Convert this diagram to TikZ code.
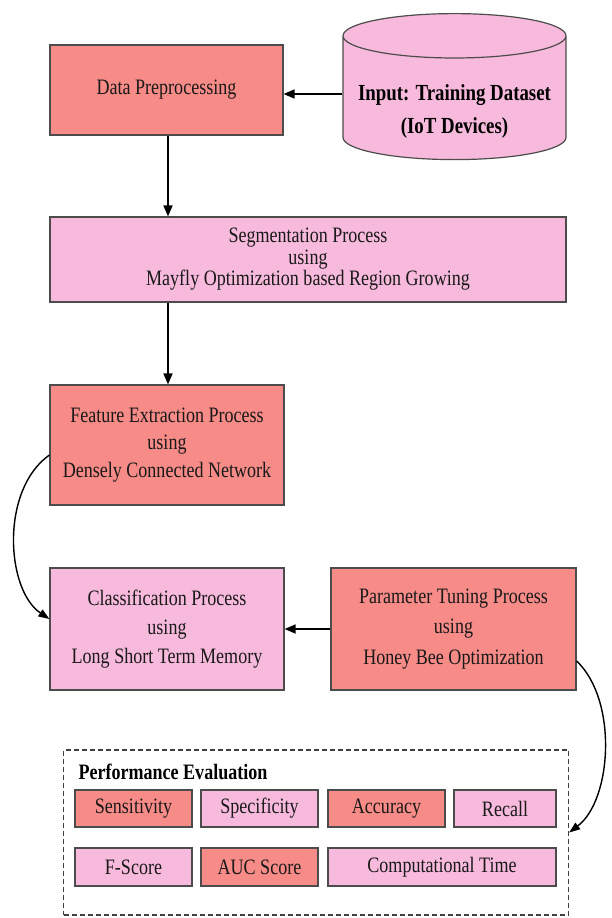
\documentclass[tikz,border=0pt]{standalone}
\usepackage{fontspec}
\setmainfont{Liberation Serif}[FakeStretch=0.82]
\usetikzlibrary{shapes.geometric,arrows.meta}
\definecolor{salmonfill}{RGB}{247,139,135}
\definecolor{pinkfill}{RGB}{248,186,220}

\begin{document}
\begin{tikzpicture}[x=1pt,y=-1pt,
    redbox/.style={draw=black!70, line width=1.2pt, fill=salmonfill, align=center, inner sep=0pt, text=black!90, font=\fontsize{22}{29}\selectfont},
    pinkbox/.style={redbox, fill=pinkfill},
    flow/.style={line width=1.7pt, -{Triangle[length=11pt,width=9pt]}},
    curvedflow/.style={line width=1.4pt, -{Triangle[length=11pt,width=8pt]}}]

    \useasboundingbox (0,0) rectangle (611,918);

    % Input data and preprocessing
    \node[redbox, minimum width=233pt, minimum height=90pt] (prep) at (166.5,90) {Data Preprocessing};
    \node[cylinder, shape border rotate=90, aspect=0.23, draw=black!70, line width=1.2pt, fill=pinkfill,
          minimum width=223pt, minimum height=146pt, inner sep=0pt,
          font=\fontsize{23}{33}\selectfont\bfseries] (input) at (454.5,98)
          {\raisebox{-12pt}[\height][\depth]{\begin{tabular}{@{}c@{}}Input: Training Dataset\\(IoT Devices)\end{tabular}}};

    % Main processing chain
    \node[pinkbox, minimum width=516pt, minimum height=85pt, font=\fontsize{22}{21.5}\selectfont] (seg) at (308,259.5) {Segmentation Process\\using\\Mayfly Optimization based Region Growing};
    \node[redbox, minimum width=234pt, minimum height=120pt, font=\fontsize{22}{27.5}\selectfont] (feat) at (167,445) {Feature Extraction Process\\using\\Densely Connected Network};
    \node[pinkbox, minimum width=234pt, minimum height=122pt] (cls) at (167,629) {Classification Process\\using\\Long Short Term Memory};
    \node[redbox, minimum width=245pt, minimum height=122pt, font=\fontsize{22}{30.5}\selectfont] (tune) at (453.5,629) {Parameter Tuning Process\\using\\Honey Bee Optimization};

    % Performance evaluation block
    \node[draw=black!75, dash pattern=on 5pt off 3pt, line width=1.3pt, minimum width=505pt, minimum height=165pt] (perf) at (316,832.5) {};
    \node[anchor=west, font=\fontsize{22}{24}\selectfont\bfseries] (perftitle) at (75,772) {Performance Evaluation};
    \node[redbox, minimum width=117pt, minimum height=37pt] (sens) at (133.5,808.5) {Sensitivity};
    \node[pinkbox, minimum width=117pt, minimum height=37pt] (spec) at (259.5,808.5) {Specificity};
    \node[redbox, minimum width=117pt, minimum height=37pt] (acc) at (386.5,808.5) {Accuracy};
    \node[pinkbox, minimum width=102pt, minimum height=37pt] (rec) at (505,808.5) {Recall};
    \node[pinkbox, minimum width=117pt, minimum height=38pt] (fsc) at (133.5,867) {F-Score};
    \node[redbox, minimum width=117pt, minimum height=38pt] (auc) at (259.5,867) {AUC Score};
    \node[pinkbox, minimum width=228pt, minimum height=38pt] (ctime) at (442,867) {Computational Time};

    % Straight arrows
    \draw[flow] (input.west |- 0,94) -- (prep.east |- 0,94);
    \draw[flow] (prep.south -| 168,0) -- (seg.north -| 168,0);
    \draw[flow] (seg.south -| 168,0) -- (feat.north -| 168,0);
    \draw[flow] (tune.west) -- (cls.east);

    % Curved arrows
    \draw[curvedflow] ([yshift=-10pt]feat.west) .. controls (0,490) and (6,590) .. ([yshift=10pt]cls.west);
    \draw[curvedflow] ([yshift=-32pt]tune.east) .. controls (618,700) and (612,800) .. (perf.east);

\end{tikzpicture}
\end{document}
